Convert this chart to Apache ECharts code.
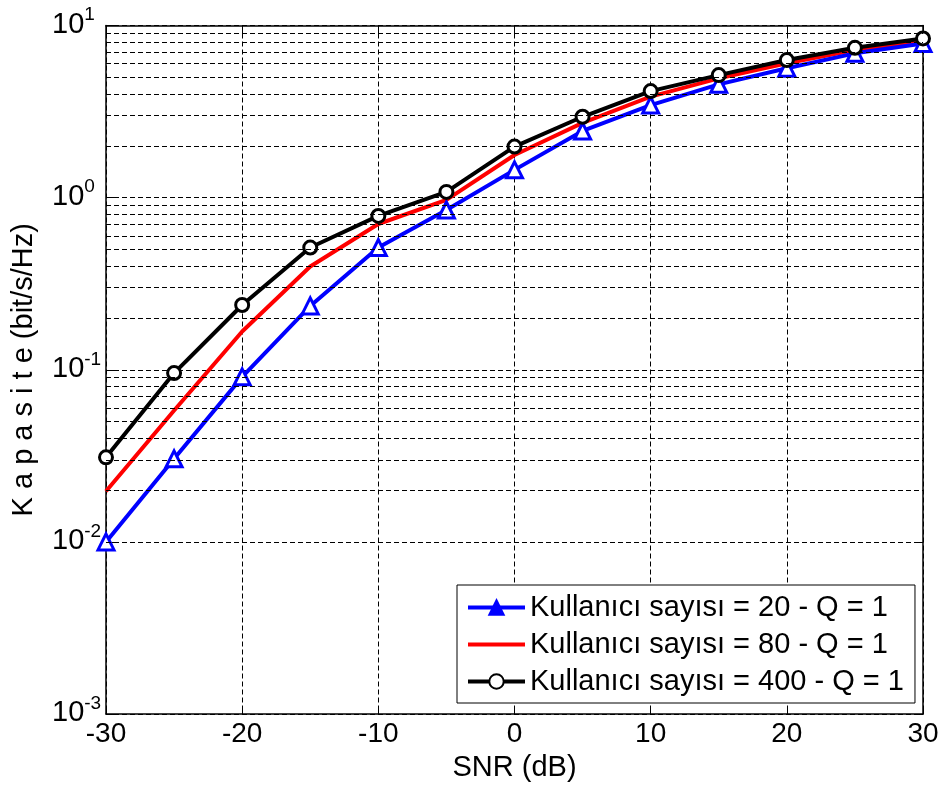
<!DOCTYPE html>
<html>
<head>
<meta charset="utf-8">
<script src="https://cdn.jsdelivr.net/npm/echarts@6/dist/echarts.min.js"></script>
<style>html,body{margin:0;padding:0;background:#fff}#c{width:944px;height:787px}</style>
</head>
<body>
<div id="c"></div>
<script>
const snr = [-30,-25,-20,-15,-10,-5,0,5,10,15,20,25,30];
const cap20 = [0.0100,0.0304,0.091,0.235,0.513,0.848,1.45,2.44,3.45,4.55,5.64,6.89,7.87];
const cap80 = [0.0197,0.058,0.167,0.398,0.703,0.97,1.77,2.72,3.86,4.93,6.03,7.20,8.15];
const cap400 = [0.031,0.0957,0.238,0.513,0.783,1.08,1.98,2.95,4.16,5.15,6.30,7.42,8.41];
const seriesNames = ['Kullanıcı sayısı = 20 - Q = 1','Kullanıcı sayısı = 80 - Q = 1','Kullanıcı sayısı = 400 - Q = 1'];
const minorGrid = [];
[0.001,0.01,0.1,1].forEach(d=>{for(let k=2;k<=9;k++) minorGrid.push(+(d*k).toPrecision(3));});

const font = 'Liberation Sans, Arial, sans-serif';
const pairs = arr => snr.map((x,i)=>[x,arr[i]]);
const dash = [5,3];

const chart = echarts.init(document.getElementById('c'), null, {renderer:'canvas'});
chart.setOption({
  animation:false,
  backgroundColor:'#fff',
  textStyle:{fontFamily:font, color:'#000'},
  grid:{left:106, right:21, top:25.5, bottom:72.5},
  xAxis:[{
    type:'value', min:-30, max:30, interval:10,
    name:'SNR (dB)', nameLocation:'middle', nameGap:36,
    nameTextStyle:{fontSize:29, fontFamily:font, color:'#000'},
    axisLine:{show:true, onZero:false, lineStyle:{color:'#000', width:1.5}},
    axisTick:{inside:true, length:8, lineStyle:{color:'#000'}},
    axisLabel:{fontSize:28, fontFamily:font, color:'#000', margin:6},
    splitLine:{show:true, lineStyle:{color:'#000', type:dash, width:1}}
  },{
    type:'value', min:-30, max:30, interval:10, position:'top',
    axisLine:{show:true, onZero:false, lineStyle:{color:'#000', width:1.5}},
    axisTick:{inside:true, length:8, lineStyle:{color:'#000'}},
    axisLabel:{show:false}, splitLine:{show:false}
  }],
  yAxis:[{
    type:'log', logBase:10, min:0.001, max:10,
    name:'K a p a s i t e (bit/s/Hz)', nameLocation:'middle', nameGap:68, nameRotate:90,
    nameTextStyle:{fontSize:29, fontFamily:font, color:'#000'},
    axisLine:{show:true, onZero:false, lineStyle:{color:'#000', width:1.5}},
    axisTick:{inside:true, length:8, lineStyle:{color:'#000'}},
    axisLabel:{
      margin:54, align:'left', padding:[0,0,2,0],
      formatter: v => '{b|10}{s|' + Math.round(Math.log10(v)) + '}',
      rich:{
        b:{fontSize:29, fontFamily:font, color:'#000'},
        s:{fontSize:19, fontFamily:font, color:'#000', padding:[0,0,19,0]}
      }
    },
    splitLine:{show:true, lineStyle:{color:'#000', type:dash, width:1}}
  },{
    type:'log', logBase:10, min:0.001, max:10, position:'right',
    axisLine:{show:true, onZero:false, lineStyle:{color:'#000', width:1.5}},
    axisTick:{inside:true, length:8, lineStyle:{color:'#000'}},
    axisLabel:{show:false}, splitLine:{show:false}
  }],
  legend:{
    data:[
      {name:seriesNames[0], itemStyle:{color:'#0000ff'}, lineStyle:{width:4}},
      {name:seriesNames[1], itemStyle:{opacity:0}, lineStyle:{width:4}},
      {name:seriesNames[2], lineStyle:{width:4}}
    ],
    orient:'vertical', left:457, top:585,
    backgroundColor:'#fff', borderColor:'#000', borderWidth:1, borderRadius:0,
    padding:[8,11,7,9], itemGap:8, itemWidth:57, itemHeight:18,
    textStyle:{fontSize:29, fontFamily:font, color:'#000'}
  },
  series:[
    {
      name:'minorgrid', type:'line', data:[], silent:true,
      markLine:{silent:true, symbol:'none', label:{show:false},
        lineStyle:{color:'#000', type:dash, width:1},
        data: minorGrid.map(v=>({yAxis:v}))}
    },
    {
      name:seriesNames[0], type:'line', data:pairs(cap20),
      symbol:'triangle', symbolSize:16, z:3,
      lineStyle:{color:'#0000ff', width:4},
      itemStyle:{color:'#fff', borderColor:'#0000ff', borderWidth:3}
    },
    {
      name:seriesNames[1], type:'line', data:pairs(cap80),
      symbol:'none', z:2,
      lineStyle:{color:'#ff0000', width:4},
      itemStyle:{color:'#ff0000'}
    },
    {
      name:seriesNames[2], type:'line', data:pairs(cap400),
      symbol:'circle', symbolSize:13, z:4,
      lineStyle:{color:'#000', width:4},
      itemStyle:{color:'#fff', borderColor:'#000', borderWidth:3}
    }
  ]
});
</script>
</body>
</html>
